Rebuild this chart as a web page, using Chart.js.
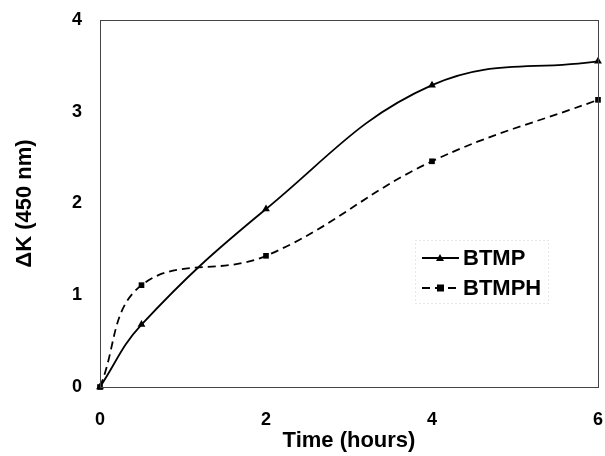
<!DOCTYPE html>
<html>
<head>
<meta charset="utf-8">
<script src="https://cdn.jsdelivr.net/npm/chart.js@4"></script>
<style>
  html, body { margin: 0; padding: 0; background: #fff; }
  #wrap { width: 605px; height: 456px; position: relative; }
</style>
</head>
<body>
<div id="wrap"><canvas id="chart" width="605" height="456"></canvas></div>
<script>
// Values
const hours = [0, 0.5, 2, 4, 6];
const btmp = [0, 0.68, 1.94, 3.29, 3.55];
const btmph = [0, 1.11, 1.43, 2.46, 3.13];
const yTicks = [0, 1, 2, 3, 4];
const xTicks = [0, 2, 4, 6];

const FONT = "'Liberation Sans', Arial, sans-serif";

function pts(xs, ys) { return xs.map((x, i) => ({ x, y: ys[i] })); }

// Frame around the plot and the legend inside it
const framePlugin = {
  id: 'frame',
  afterDraw(chart) {
    const { ctx, chartArea: a } = chart;
    ctx.save();
    ctx.strokeStyle = '#444';
    ctx.lineWidth = 1;
    ctx.strokeRect(a.left + 0.5, a.top + 0.5, a.right - a.left, a.bottom - a.top);

    // legend box
    ctx.strokeStyle = '#ccc';
    ctx.setLineDash([1, 3]);
    ctx.strokeRect(415.5, 240.5, 133, 63);
    ctx.setLineDash([]);

    const rows = [
      { label: 'BTMP', y: 258, dash: [], marker: 'tri' },
      { label: 'BTMPH', y: 288, dash: [8, 5], marker: 'sq' }
    ];
    rows.forEach(r => {
      ctx.strokeStyle = '#000';
      ctx.lineWidth = 1.8;
      ctx.setLineDash(r.dash);
      ctx.beginPath();
      ctx.moveTo(422, r.y);
      ctx.lineTo(459, r.y);
      ctx.stroke();
      ctx.setLineDash([]);
      ctx.fillStyle = '#000';
      if (r.marker === 'tri') {
        ctx.beginPath();
        ctx.moveTo(440, r.y - 4);
        ctx.lineTo(444, r.y + 3);
        ctx.lineTo(436, r.y + 3);
        ctx.closePath();
        ctx.fill();
      } else {
        ctx.fillRect(437, r.y - 3.5, 7, 7);
      }
      ctx.font = 'bold 22px ' + FONT;
      ctx.textBaseline = 'middle';
      ctx.textAlign = 'left';
      ctx.fillText(r.label, 463, r.y + 1);
    });
    ctx.restore();
  }
};

new Chart(document.getElementById('chart'), {
  type: 'line',
  data: {
    datasets: [
      {
        label: 'BTMP',
        data: pts(hours, btmp),
        borderColor: '#000',
        backgroundColor: '#000',
        borderWidth: 1.8,
        tension: 0.4,
        pointStyle: 'triangle',
        pointRadius: 4.5,
        pointBorderWidth: 0
      },
      {
        label: 'BTMPH',
        data: pts(hours, btmph),
        borderColor: '#000',
        backgroundColor: '#000',
        borderWidth: 1.8,
        borderDash: [8, 5],
        tension: 0.4,
        pointStyle: 'rect',
        pointRadius: 4,
        pointBorderWidth: 0
      }
    ]
  },
  options: {
    responsive: false,
    animation: false,
    clip: false,
    layout: { padding: { top: 20, right: 7, left: 0, bottom: 0 } },
    plugins: { legend: { display: false }, tooltip: { enabled: false } },
    scales: {
      x: {
        type: 'linear',
        min: 0, max: 6,
        afterFit(scale) { scale.height = 69; scale.paddingLeft = 0; scale.paddingRight = 0; },
        afterBuildTicks(scale) { scale.ticks = xTicks.map(v => ({ value: v })); },
        grid: { display: false, drawTicks: false },
        border: { display: false },
        ticks: { color: '#000', padding: 22, font: { family: FONT, size: 18, weight: 'bold' } },
        title: {
          display: true, text: 'Time (hours)', color: '#000',
          padding: { top: 0, bottom: 2 },
          font: { family: FONT, size: 22, weight: 'bold' }
        }
      },
      y: {
        type: 'linear',
        min: 0, max: 4,
        afterFit(scale) { scale.width = 100; scale.paddingTop = 0; scale.paddingBottom = 0; },
        afterBuildTicks(scale) { scale.ticks = yTicks.map(v => ({ value: v })); },
        grid: { display: false, drawTicks: false },
        border: { display: false },
        ticks: { color: '#000', padding: 18, font: { family: FONT, size: 18, weight: 'bold' } },
        title: {
          display: true, text: 'ΔK (450 nm)', color: '#000',
          padding: { top: 12, bottom: 0 },
          font: { family: FONT, size: 22, weight: 'bold' }
        }
      }
    }
  },
  plugins: [framePlugin]
});
</script>
</body>
</html>
